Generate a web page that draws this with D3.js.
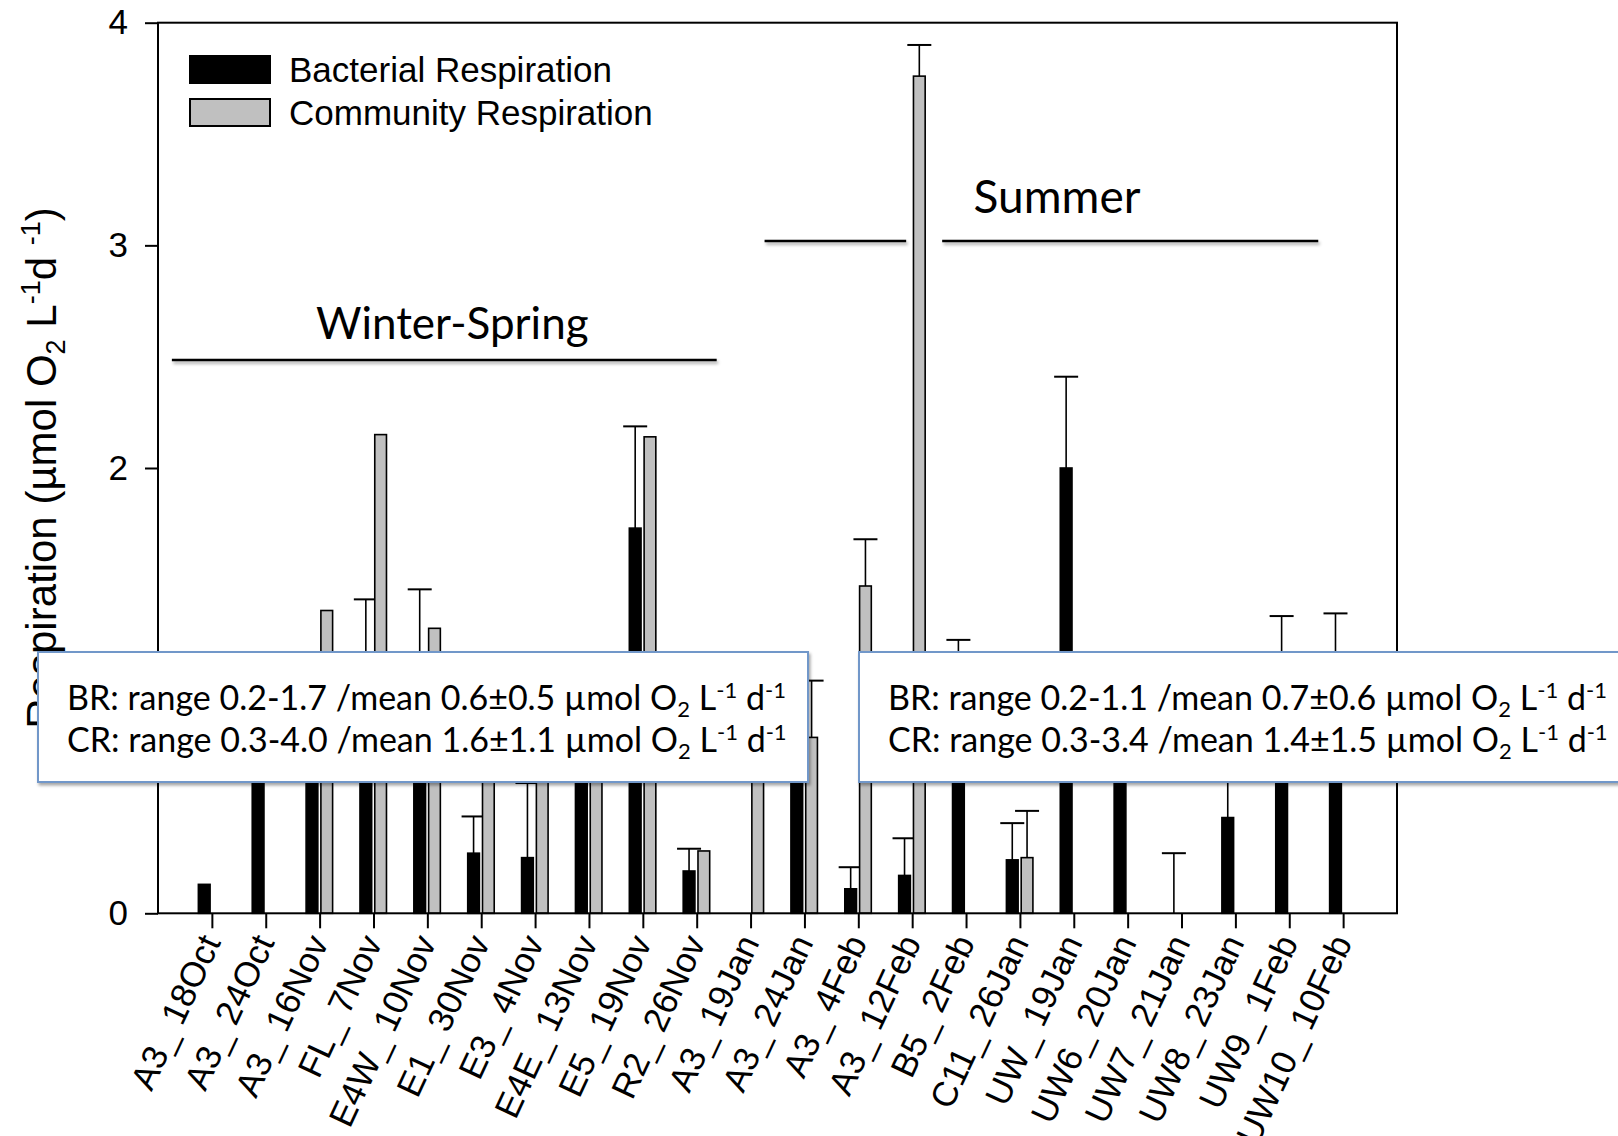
<!DOCTYPE html>
<html>
<head>
<meta charset="utf-8">
<script src="https://cdn.jsdelivr.net/npm/d3@7/dist/d3.min.js"></script>
<style>
  body { margin: 0; background: #fff; }
  svg { display: block; }
</style>
</head>
<body>
<svg id="chart" width="1618" height="1136"></svg>
<script>
// Sampling stations along the transect (x categories)
const stations = [
  "A3_ 18Oct", "A3_ 24Oct", "A3_ 16Nov", "FL_ 7Nov", "E4W_ 10Nov", "E1_ 30Nov",
  "E3_ 4Nov", "E4E_ 13Nov", "E5_ 19Nov", "R2_ 26Nov", "A3_ 19Jan", "A3_ 24Jan",
  "A3_ 4Feb", "A3_ 12Feb", "B5_ 2Feb", "C11_ 26Jan", "UW_ 19Jan", "UW6_ 20Jan",
  "UW7_ 21Jan", "UW8_ 23Jan", "UW9_ 1Feb", "UW10_ 10Feb"
];

// Bacterial respiration (µmol O2 L-1 d-1) and its standard deviation; null = not measured
const brValues = [0.13, 0.95, 0.90, 1.00, 1.05, 0.27, 0.25, 0.80, 1.73, 0.19, null, 0.90,
                  0.11, 0.17, 0.85, 0.24, 2.00, 0.90, 0.00, 0.43, 0.95, 0.95];
const brErrors = [null, null, null, 0.41, 0.405, 0.165, 0.335, null, 0.457, 0.10, null, null,
                  0.097, 0.167, 0.378, 0.165, 0.41, null, 0.27, 0.35, 0.385, 0.397];

// Community respiration (µmol O2 L-1 d-1) and its standard deviation; null = not measured
const crValues = [null, null, 1.36, 2.15, 1.28, 0.85, 0.90, 0.85, 2.14, 0.28, 0.90, 0.79,
                  1.47, 3.76, null, 0.25, null, null, null, null, null, null];
const crErrors = [null, null, null, null, null, null, null, null, null, null, null, 0.255,
                  0.21, 0.14, null, 0.21, null, null, null, null, null, null];

const yTicks = [0, 1, 2, 3, 4];
const seriesNames = ["Bacterial Respiration", "Community Respiration"];
const seriesKeys = ["BR", "CR"];
const seriesFill = { BR: "#000000", CR: "#c0c0c0" };

// Season groupings drawn above the bars
const seasons = [
  { name: "Winter-Spring", segments: [["A3_ 18Oct", "R2_ 26Nov"]] },
  { name: "Summer", segments: [["A3_ 19Jan", "A3_ 12Feb"], ["A3_ 12Feb", "UW9_ 1Feb"]] }
];

// Summary statistics per season
const summaryBR = ["BR: range 0.2-1.7 /mean 0.6±0.5 µmol O", "BR: range 0.2-1.1 /mean 0.7±0.6 µmol O"];
const summaryCR = ["CR: range 0.3-4.0 /mean 1.6±1.1 µmol O", "CR: range 0.3-3.4 /mean 1.4±1.5 µmol O"];

const svg = d3.select("#chart");
const plot = { left: 158, right: 1397, top: 22.7, bottom: 913.3 };

const x = d3.scalePoint().domain(stations).range([plot.left, plot.right]).padding(1);
const y = d3.scaleLinear().domain([0, 4]).range([plot.bottom, plot.top]);
const inner = d3.scaleBand().domain(seriesKeys).range([-14, 13.5]).paddingInner(0.14);

// drop shadow used for the season rules and the summary boxes
const defs = svg.append("defs");
const sh = defs.append("filter").attr("id", "shadow")
  .attr("filterUnits", "userSpaceOnUse")
  .attr("x", 0).attr("y", 0).attr("width", 1618).attr("height", 1136);
sh.append("feDropShadow").attr("dx", 1.5).attr("dy", 2.5).attr("stdDeviation", 1.8)
  .attr("flood-color", "#000").attr("flood-opacity", 0.35);

// bars + error bars
const rows = stations.map((s, i) => ({
  s,
  BR: { v: brValues[i], e: brErrors[i] },
  CR: { v: crValues[i], e: crErrors[i] }
}));

const barG = svg.append("g");
seriesKeys.forEach(k => {
  const data = rows.filter(r => r[k].v !== null);
  barG.selectAll(null).data(data).enter().append("rect")
    .attr("x", d => x(d.s) + inner(k) + 0.5)
    .attr("y", d => y(d[k].v))
    .attr("width", inner.bandwidth() - 1)
    .attr("height", d => y(0) - y(d[k].v))
    .attr("fill", seriesFill[k])
    .attr("stroke", "#000")
    .attr("stroke-width", 1.6);

  const errs = data.filter(r => r[k].e !== null);
  const cx = d => x(d.s) + inner(k) + inner.bandwidth() / 2;
  barG.selectAll(null).data(errs).enter().append("line")
    .attr("x1", cx).attr("x2", cx)
    .attr("y1", d => y(d[k].v)).attr("y2", d => y(d[k].v + d[k].e))
    .attr("stroke", "#000").attr("stroke-width", 1.6);
  barG.selectAll(null).data(errs).enter().append("line")
    .attr("x1", d => cx(d) - 12).attr("x2", d => cx(d) + 12)
    .attr("y1", d => y(d[k].v + d[k].e)).attr("y2", d => y(d[k].v + d[k].e))
    .attr("stroke", "#000").attr("stroke-width", 2);
});

// frame
svg.append("rect")
  .attr("x", plot.left).attr("y", plot.top)
  .attr("width", plot.right - plot.left).attr("height", plot.bottom - plot.top)
  .attr("fill", "none").attr("stroke", "#000").attr("stroke-width", 2);

// y axis
const yAxis = svg.append("g").attr("transform", `translate(${plot.left},0)`)
  .call(d3.axisLeft(y).tickValues(yTicks).tickSize(13).tickPadding(17).tickFormat(d3.format("d")));
yAxis.select(".domain").remove();
yAxis.selectAll(".tick line").attr("stroke", "#000").attr("stroke-width", 2);
yAxis.selectAll(".tick text").attr("font-family", "Liberation Sans, Arial, sans-serif")
  .attr("font-size", 35).attr("fill", "#000");

// x axis
const xAxis = svg.append("g").attr("transform", `translate(0,${plot.bottom})`)
  .call(d3.axisBottom(x).tickSize(15).tickPadding(0));
xAxis.select(".domain").remove();
xAxis.selectAll(".tick line").attr("stroke", "#000").attr("stroke-width", 2);
xAxis.selectAll(".tick text")
  .attr("font-family", "Liberation Sans, Arial, sans-serif")
  .attr("font-size", 35).attr("fill", "#000")
  .attr("text-anchor", "end")
  .attr("x", 0).attr("y", 0).attr("dy", 0)
  .attr("transform", "translate(9,29) rotate(-65)");

// y axis title
const yTitle = svg.append("text")
  .attr("transform", `translate(56,${(plot.top + plot.bottom) / 2}) rotate(-90)`)
  .attr("text-anchor", "middle")
  .attr("font-family", "Liberation Sans, Arial, sans-serif")
  .attr("font-size", 42).attr("fill", "#000");
yTitle.append("tspan").text("Respiration (µmol O");
yTitle.append("tspan").attr("font-size", 27).attr("dy", 9).text("2");
yTitle.append("tspan").attr("dy", -9).text(" L");
yTitle.append("tspan").attr("font-size", 27).attr("dy", -16).text("-1");
yTitle.append("tspan").attr("dy", 16).text("d ");
yTitle.append("tspan").attr("font-size", 27).attr("dy", -16).text("-1");
yTitle.append("tspan").attr("dy", 16).text(")");

// legend
const legend = svg.append("g");
seriesKeys.forEach((k, i) => {
  legend.append("rect")
    .attr("x", 190).attr("y", 56 + i * 43).attr("width", 80).attr("height", 27)
    .attr("fill", seriesFill[k]).attr("stroke", "#000").attr("stroke-width", 2);
  legend.append("text")
    .attr("x", 289).attr("y", 69.5 + i * 43).attr("dy", "0.36em")
    .attr("font-family", "Liberation Sans, Arial, sans-serif")
    .attr("font-size", 35).attr("fill", "#000")
    .text(seriesNames[i]);
});

// season rules and names
const seasonLayer = svg.append("g");
const seasonY = [360, 241];
const seasonLabelY = [339, 213];
const seasonFont = [44, 46];
seasons.forEach((se, i) => {
  const segs = se.segments.map(([a, b], j) => {
    let x1 = x(a) - 40, x2 = x(b) + 20;
    if (i === 1) {
      x1 = j === 0 ? x(a) + 14 : x(a) + 30;
      x2 = j === 0 ? x(b) - 6 : x(b) + 29;
    }
    return [x1, x2];
  });
  segs.forEach(([x1, x2]) => {
    seasonLayer.append("line")
      .attr("x1", x1).attr("x2", x2).attr("y1", seasonY[i]).attr("y2", seasonY[i])
      .attr("stroke", "#000").attr("stroke-width", 2.6).attr("filter", "url(#shadow)");
  });
  const mid = i === 0 ? (segs[0][0] + segs[0][1]) / 2 + 8 : 1057;
  seasonLayer.append("text")
    .attr("x", mid).attr("y", seasonLabelY[i]).attr("text-anchor", "middle")
    .attr("font-family", "Lato, 'Open Sans', sans-serif").attr("font-size", seasonFont[i])
    .attr("fill", "#000").text(se.name);
});

// summary boxes
const boxes = [{ x: 38, w: 770 }, { x: 859, w: 800 }];
boxes.forEach((b, i) => {
  const g = svg.append("g");
  g.append("rect").attr("x", b.x).attr("y", 652).attr("width", b.w).attr("height", 130)
    .attr("fill", "#fff").attr("stroke", "#7197c9").attr("stroke-width", 2)
    .attr("filter", "url(#shadow)");
  [summaryBR[i], summaryCR[i]].forEach((line, j) => {
    const t = g.append("text")
      .attr("x", b.x + 29).attr("y", 710 + j * 42)
      .attr("font-family", "Lato, 'Open Sans', sans-serif").attr("font-size", 34)
      .attr("fill", "#000");
    t.append("tspan").text(line);
    t.append("tspan").attr("font-size", 22).attr("dy", 7).text("2");
    t.append("tspan").attr("dy", -7).text(" L");
    t.append("tspan").attr("font-size", 22).attr("dy", -12).text("-1");
    t.append("tspan").attr("dy", 12).text(" d");
    t.append("tspan").attr("font-size", 22).attr("dy", -12).text("-1");
  });
});
</script>
</body>
</html>
